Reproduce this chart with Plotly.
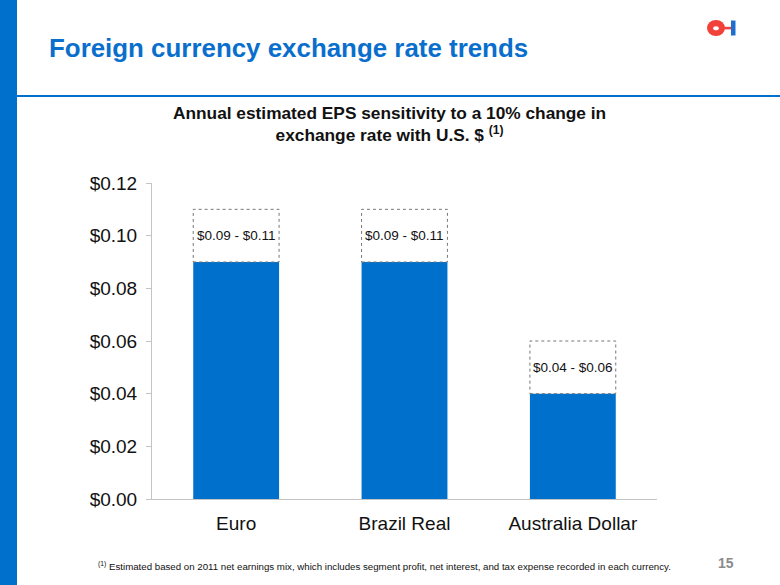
import plotly.graph_objects as go

categories = ["Euro", "Brazil Real", "Australia Dollar"]
low_values = [0.09, 0.09, 0.04]
high_values = [0.11, 0.11, 0.06]
range_labels = ["$0.09 - $0.11", "$0.09 - $0.11", "$0.04 - $0.06"]
y_ticks = [0.0, 0.02, 0.04, 0.06, 0.08, 0.10, 0.12]
y_tick_labels = ["$0.00", "$0.02", "$0.04", "$0.06", "$0.08", "$0.10", "$0.12"]

BLUE = "#0070CD"
W, H = 780, 585
L, R, T, B = 152, 123, 183, 86
PW, PH = W - L - R, H - T - B

def px(x):
    return (x - L) / PW

def py(y):
    return (H - B - y) / PH

BAR_W = 0.51
FONT = "Arial, Liberation Sans, sans-serif"

fig = go.Figure()
fig.add_trace(go.Bar(x=categories, y=low_values, marker=dict(color=BLUE, line=dict(width=0)),
                     width=BAR_W, name="Low", hoverinfo="x+y"))
fig.add_trace(go.Bar(x=categories, y=[h - l for h, l in zip(high_values, low_values)],
                     base=low_values, marker=dict(color="rgba(255,255,255,0)", line=dict(width=0)),
                     width=BAR_W, name="Range", hoverinfo="x"))

shapes = []
annotations = []
for i, (lo, hi, lab) in enumerate(zip(low_values, high_values, range_labels)):
    shapes.append(dict(type="rect", xref="x", yref="y", x0=i - BAR_W / 2, x1=i + BAR_W / 2,
                       y0=lo, y1=hi, line=dict(color="#777777", width=1, dash="dot"),
                       fillcolor="rgba(0,0,0,0)", layer="above"))
    annotations.append(dict(x=categories[i], y=(lo + hi) / 2, xref="x", yref="y", text=lab,
                            showarrow=False, font=dict(family=FONT, size=13.5, color="#111111")))

# slide decorations
shapes.append(dict(type="rect", xref="paper", yref="paper", x0=px(0), x1=px(17), y0=py(0), y1=py(H),
                   fillcolor=BLUE, line=dict(width=0), layer="below"))
shapes.append(dict(type="line", xref="paper", yref="paper", x0=px(17), x1=px(W), y0=py(96), y1=py(96),
                   line=dict(color=BLUE, width=2)))
# logo
shapes.append(dict(type="circle", xref="paper", yref="paper", x0=px(707), x1=px(725), y0=py(20), y1=py(36),
                   fillcolor="#F2403A", line=dict(width=0)))
shapes.append(dict(type="rect", xref="paper", yref="paper", x0=px(722), x1=px(731.5), y0=py(26.8), y1=py(29.4),
                   fillcolor="#F2403A", line=dict(width=0)))
shapes.append(dict(type="circle", xref="paper", yref="paper", x0=px(713.2), x1=px(718.8), y0=py(26.2), y1=py(30.2),
                   fillcolor="white", line=dict(width=0)))
shapes.append(dict(type="rect", xref="paper", yref="paper", x0=px(731), x1=px(735.5), y0=py(20.5), y1=py(35.5),
                   fillcolor="#1F6FD0", line=dict(width=0)))

annotations += [
    dict(x=px(47), y=py(48), xref="paper", yref="paper", xanchor="left", yanchor="middle",
         text="<b>Foreign currency exchange rate trends</b>", showarrow=False,
         font=dict(family=FONT, size=25.9, color="#0A6FCC")),
    dict(x=px(389), y=py(124), xref="paper", yref="paper", xanchor="center", yanchor="middle",
         text="<b>Annual estimated EPS sensitivity to a 10% change in<br>exchange rate with U.S. $ <sup>(1)</sup></b>",
         showarrow=False, align="center",
         font=dict(family=FONT, size=17.3, color="#111111")),
    dict(x=px(96), y=py(566), xref="paper", yref="paper", xanchor="left", yanchor="middle",
         text="<sup>(1)</sup> Estimated based on 2011 net earnings mix, which includes segment profit, net interest, and tax expense recorded in each currency.",
         showarrow=False,
         font=dict(family=FONT, size=9.7, color="#111111")),
    dict(x=px(726), y=py(563), xref="paper", yref="paper", xanchor="center", yanchor="middle",
         text="<b>15</b>", showarrow=False,
         font=dict(family=FONT, size=14, color="#8A8A8A")),
]

fig.update_layout(
    width=W, height=H,
    margin=dict(l=L, r=R, t=T, b=B, pad=0),
    barmode="overlay",
    showlegend=False,
    plot_bgcolor="white", paper_bgcolor="white",
    shapes=shapes, annotations=annotations,
    xaxis=dict(showline=True, linecolor="#C4C4C4", linewidth=1, ticks="", showgrid=False,
               ticklabelstandoff=7,
               tickfont=dict(family=FONT, size=19, color="#111111"), fixedrange=True),
    yaxis=dict(range=[0, 0.12], tickvals=y_ticks, ticktext=y_tick_labels, showline=True,
               linecolor="#C4C4C4", linewidth=1, ticks="outside", ticklen=5, tickcolor="#C4C4C4",
               showgrid=False, zeroline=False, ticklabelstandoff=5,
               tickfont=dict(family=FONT, size=19, color="#111111"), fixedrange=True),
)

fig.write_html("out.html", config={"displayModeBar": False},
               post_script="document.body.style.margin='0';document.body.style.overflow='hidden';")
